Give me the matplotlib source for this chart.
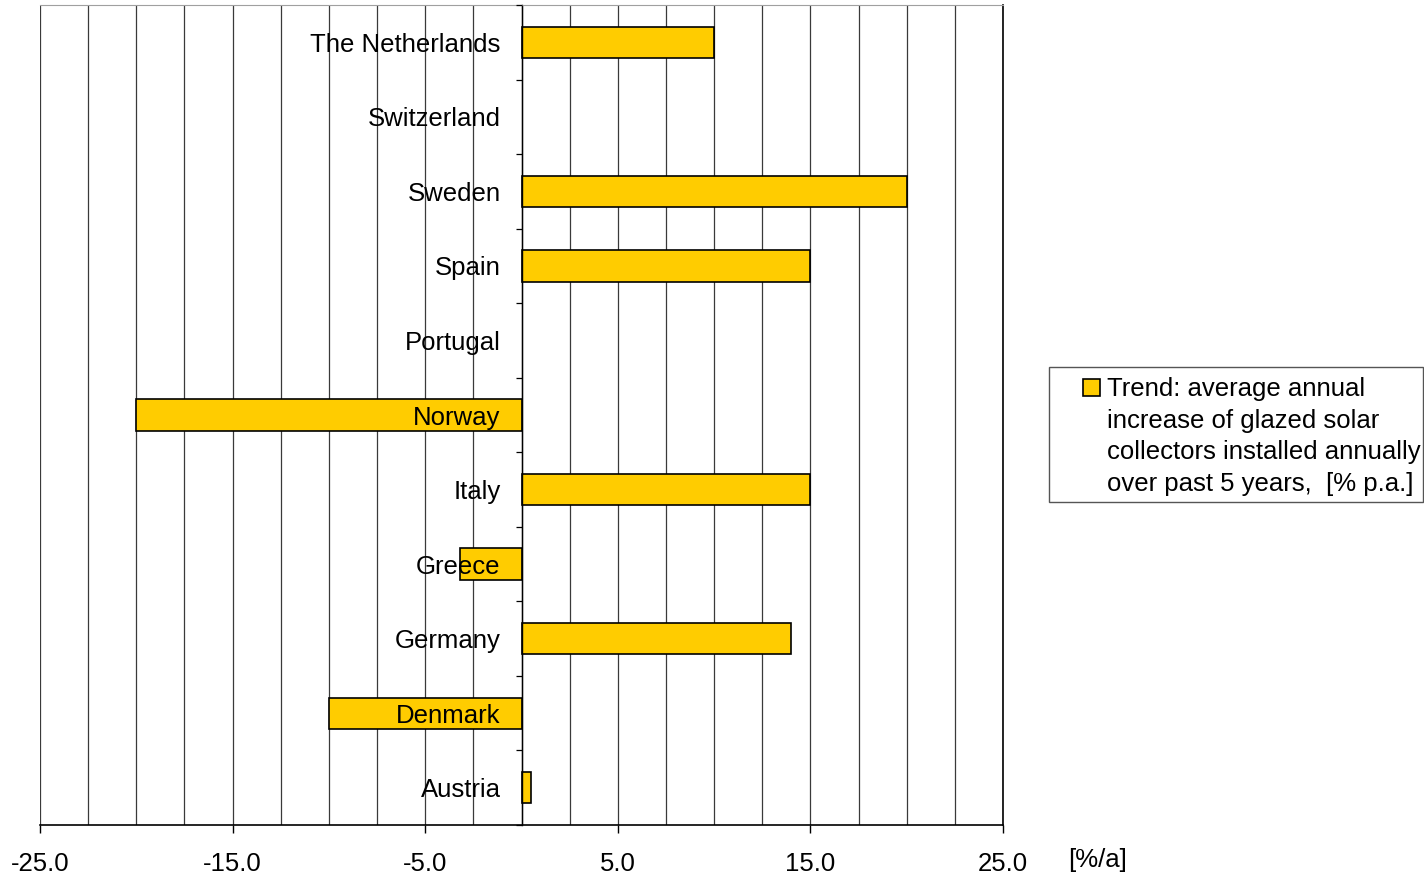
import matplotlib.pyplot as plt
import numpy as np
from matplotlib.patches import Rectangle

plt.rcParams['font.family'] = ['Liberation Sans', 'DejaVu Sans']

countries = ['Austria', 'Denmark', 'Germany', 'Greece', 'Italy', 'Norway',
             'Portugal', 'Spain', 'Sweden', 'Switzerland', 'The Netherlands']
trend = [0.5, -10.0, 14.0, -3.2, 15.0, -20.0, np.nan, 15.0, 20.0, np.nan, 10.0]
legend_text = ("Trend: average annual\nincrease of glazed solar\n"
               "collectors installed annually\nover past 5 years,  [% p.a.]")

W, H = 1424, 877
fs = 18.5
bar_color = '#FFCC00'

fig = plt.figure(figsize=(W / 100, H / 100), dpi=100)
ax = fig.add_axes([40 / W, 1 - 825 / H, 963 / W, 820 / H])

y = np.arange(len(countries))
ax.barh(y, trend, height=0.42, color=bar_color, edgecolor='black', linewidth=1.2, zorder=1)

ax.set_xlim(-25, 25)
ax.set_ylim(-0.5, len(countries) - 0.5)

ax.set_xticks(np.arange(-25, 26, 10))
ax.set_xticklabels(['%.1f' % v for v in np.arange(-25, 26, 10)])
ax.set_xticks(np.arange(-25, 25.1, 2.5), minor=True)
ax.tick_params(axis='x', which='major', length=6, width=1, pad=13.5, direction='out', labelsize=fs)
ax.tick_params(axis='x', which='minor', length=0)
ax.grid(axis='x', which='both', color='#3a3a3a', linewidth=0.9)
ax.xaxis.set_zorder(0.5)

ax.set_yticks(y)
ax.set_yticklabels(countries)
ax.set_yticks(np.arange(-0.5, len(countries), 1), minor=True)
ax.tick_params(axis='y', which='major', length=0, pad=15, labelsize=fs)
ax.tick_params(axis='y', which='minor', length=4.5, width=0.9, direction='out')
ax.yaxis.set_zorder(5)

ax.spines['left'].set_position(('data', 0))
ax.spines['left'].set_linewidth(1)
ax.spines['bottom'].set_linewidth(1.2)
ax.spines['top'].set_color('#a0a0a0')
ax.spines['right'].set_linewidth(1.2)

fig.text(1098 / W, 1 - 860 / H, '[%/a]', fontsize=fs, ha='center', va='center')

# legend box
fig.add_artist(Rectangle((1049 / W, 1 - 502 / H), 374 / W, 135 / H, transform=fig.transFigure,
                         facecolor='white', edgecolor='#555555', linewidth=1))
fig.add_artist(Rectangle((1083 / W, 1 - 396 / H), 17 / W, 17 / H, transform=fig.transFigure,
                         facecolor=bar_color, edgecolor='black', linewidth=1.2))
fig.text(1107 / W, 1 - 377 / H, legend_text, fontsize=fs, ha='left', va='top', linespacing=1.4)

fig.savefig('out.png', dpi=100)
